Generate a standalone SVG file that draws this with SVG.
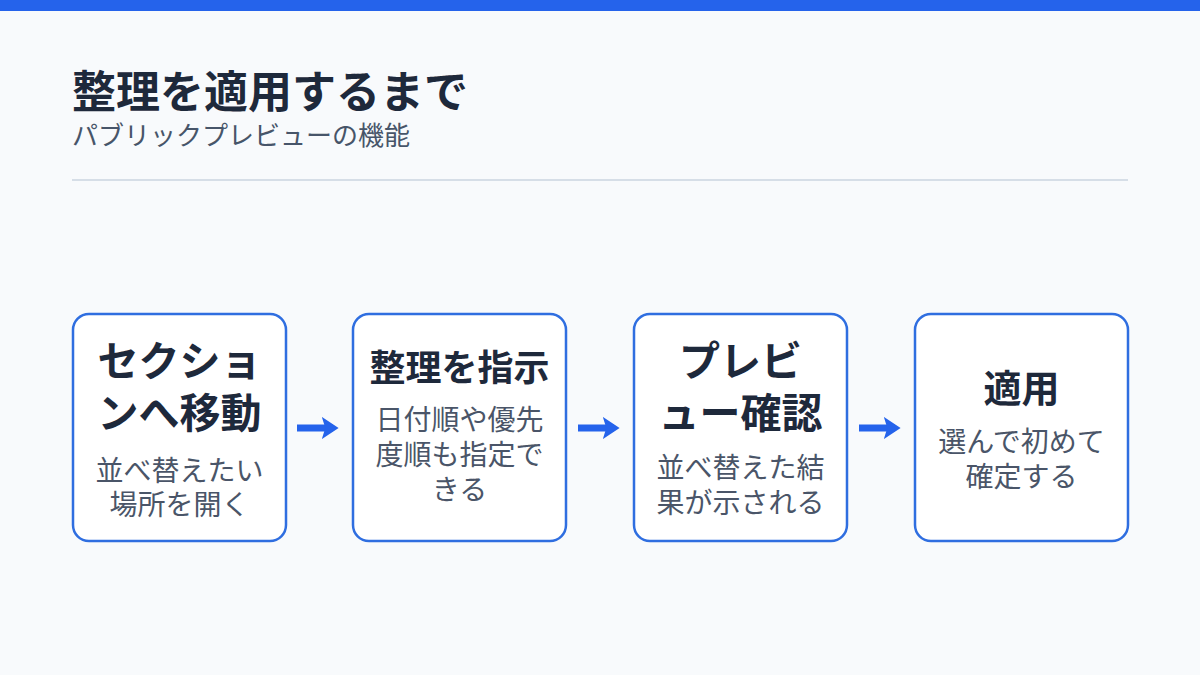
<svg xmlns="http://www.w3.org/2000/svg" width="1200" height="675" viewBox="0 0 1200 675">
<defs>
<style>
text{font-family:"Noto Sans CJK JP","Noto Sans",sans-serif;text-anchor:middle}
.h{font-size:41px;font-weight:700;fill:#1e293b}
.s{font-size:28px;fill:#4a5568}
.box{fill:#fff;stroke:#2f6ee0;stroke-width:2.5}
.ar{stroke:#2563eb;stroke-width:7;fill:none}
</style>
<marker id="m" markerWidth="4" markerHeight="4" refX="1.6" refY="2" orient="auto" markerUnits="strokeWidth"><path d="M0,0.4 L2.4,2 L0,3.6 L0.5,2 Z" fill="#2563eb"/></marker>
</defs>
<rect width="1200" height="675" fill="#f8fafc"/>
<rect width="1200" height="11" fill="#2563eb"/>
<text x="72" y="108" style="text-anchor:start;font-size:44px;font-weight:700;fill:#1e293b">整理を適用するまで</text>
<text x="72" y="145" style="text-anchor:start;font-size:26px;fill:#475569">パブリックプレビューの機能</text>
<line x1="72" y1="180" x2="1128" y2="180" stroke="#cbd5e1" stroke-width="1.5"/>
<g id="connectors">
<line class="ar" x1="297" y1="428" x2="333" y2="428" marker-end="url(#m)"/>
<line class="ar" x1="578" y1="428" x2="614" y2="428" marker-end="url(#m)"/>
<line class="ar" x1="859" y1="428" x2="895" y2="428" marker-end="url(#m)"/>
</g>
<g id="n1"><rect class="box" x="73" y="314" width="213" height="227" rx="16"/>
<text class="h" x="179.5" y="376">セクショ</text><text class="h" x="179.5" y="428">ンへ移動</text>
<text class="s" x="179.5" y="481">並べ替えたい</text><text class="s" x="179.5" y="515">場所を開く</text></g>
<g id="n2"><rect class="box" x="353" y="314" width="213" height="227" rx="16"/>
<text class="h" x="459.5" y="381" style="font-size:36px">整理を指示</text>
<text class="s" x="459.5" y="430">日付順や優先</text><text class="s" x="459.5" y="465">度順も指定で</text><text class="s" x="459.5" y="500">きる</text></g>
<g id="n3"><rect class="box" x="634" y="314" width="213" height="227" rx="16"/>
<text class="h" x="740.5" y="376">プレビ</text><text class="h" x="740.5" y="428">ュー確認</text>
<text class="s" x="740.5" y="478">並べ替えた結</text><text class="s" x="740.5" y="513">果が示される</text></g>
<g id="n4"><rect class="box" x="915" y="314" width="213" height="227" rx="16"/>
<text class="h" x="1021.5" y="402" style="font-size:38px">適用</text>
<text class="s" x="1021.5" y="452">選んで初めて</text><text class="s" x="1021.5" y="487">確定する</text></g>
</svg>
